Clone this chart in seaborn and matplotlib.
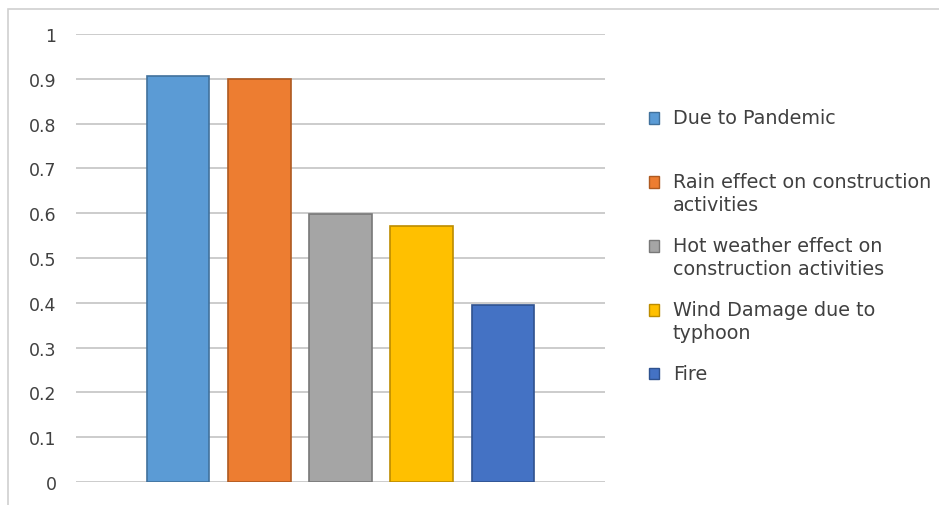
import matplotlib
matplotlib.use("Agg")
import matplotlib.pyplot as plt
import seaborn as sns
import pandas as pd
from matplotlib.patches import Rectangle
from matplotlib.legend_handler import HandlerPatch

# Impact factors and their relative importance index
categories = [
    "Due to Pandemic",
    "Rain effect on construction\nactivities",
    "Hot weather effect on\nconstruction activities",
    "Wind Damage due to\ntyphoon",
    "Fire",
]
values = [0.907, 0.899, 0.598, 0.571, 0.395]
y_ticks = [0, 0.1, 0.2, 0.3, 0.4, 0.5, 0.6, 0.7, 0.8, 0.9, 1]
y_tick_labels = ["0", "0.1", "0.2", "0.3", "0.4", "0.5", "0.6", "0.7", "0.8", "0.9", "1"]

fill_colors = ["#5B9BD5", "#ED7D31", "#A5A5A5", "#FFC000", "#4472C4"]
edge_colors = ["#41719C", "#AE5A21", "#787878", "#BC8C00", "#2F528F"]

df = pd.DataFrame({"factor": categories, "value": values})

sns.set_style("white")
plt.rcParams["font.family"] = ["DejaVu Sans"]

fig = plt.figure(figsize=(9.39, 5.06), dpi=100)
ax = fig.add_axes([76 / 939, 1 - 483 / 506, (605 - 76) / 939, (483 - 35) / 506])

sns.barplot(data=df, x="factor", y="value", hue="factor",
            palette=fill_colors, order=categories, hue_order=categories,
            width=0.77, dodge=False, saturation=1, legend=False, ax=ax)

for bar, ec in zip(ax.patches, edge_colors):
    bar.set_edgecolor(ec)
    bar.set_linewidth(1.2)

ax.set_xlim(-1.26, 5.26)
ax.set_ylim(0, 1)
ax.set_yticks(y_ticks)
ax.set_yticklabels(y_tick_labels)
ax.set_xticks([])
ax.set_xlabel("")
ax.set_ylabel("")
ax.grid(axis="y", color="#C8C8C8", linewidth=1.3)
ax.set_axisbelow(True)
for s in ax.spines.values():
    s.set_visible(False)
ax.tick_params(axis="y", length=0, pad=14, labelsize=12.5, labelcolor="#404040")


def swatch(legend, orig_handle, xdescent, ydescent, width, height, fontsize):
    # small square lowered onto the middle of the first text line
    return Rectangle((-xdescent, -ydescent - 3.2), width, height)


# Legend: each entry reserves two text lines, swatch sits on the first line
handles = [Rectangle((0, 0), 1, 1, facecolor=fc, edgecolor=ec, linewidth=1)
           for fc, ec in zip(fill_colors, edge_colors)]
labels = [c if "\n" in c else c + "\n " for c in categories]
leg = fig.legend(handles, labels, loc="upper left",
                 bbox_to_anchor=(649 / 939, 1 - 109 / 506),
                 frameon=False, fontsize=13.8, handlelength=0.52, handleheight=0.52,
                 handletextpad=0.72, labelspacing=1.12, borderpad=0, borderaxespad=0,
                 handler_map={Rectangle: HandlerPatch(patch_func=swatch)})
for t in leg.get_texts():
    t.set_color("#404040")
    t.set_linespacing(1.30)
for row in leg._legend_handle_box.get_children():
    for item in row.get_children():
        item.align = "top"

# Chart area border
fig.patches.append(Rectangle((8 / 939, -0.01), 1, 1 - 10 / 506 + 0.01,
                             transform=fig.transFigure, fill=False,
                             edgecolor="#D0D0D0", linewidth=1.2))

fig.savefig("out.png", dpi=100)
